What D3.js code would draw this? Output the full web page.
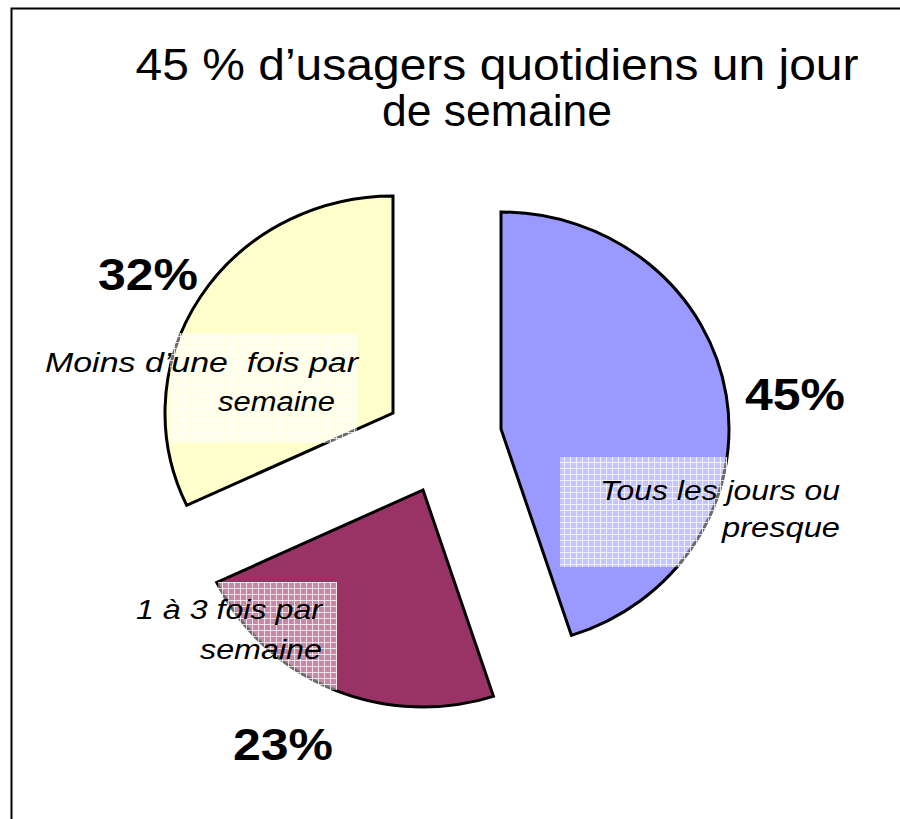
<!DOCTYPE html>
<html><head><meta charset="utf-8">
<script src="https://cdn.jsdelivr.net/npm/d3@7"></script>
<style>html,body{margin:0;padding:0;background:#fff;}svg{display:block;}text{white-space:pre;}</style>
</head><body>
<script>
// ---- data ----
const categories = ["Tous les jours ou presque", "1 à 3 fois par semaine", "Moins d’une  fois par semaine"];
const values = [45, 23, 32];
const percentLabels = ["45%", "23%", "32%"];
const labelLines = [["Tous les jours ou", "presque"], ["1 à 3 fois par", "semaine"], ["Moins d’une  fois par", "semaine"]];
const colors = ["#9999FF", "#993366", "#FFFFCC"];
const titleLines = ["45 % d’usagers quotidiens un jour", "de semaine"];

// ---- layout ----
const W = 900, H = 819;
const ry = 217, sx = 228 / 217;
const sliceCenters = [[501, 429], [423, 490], [393, 413]];
const pctPos = [[795, 410], [283, 760], [148, 290]];
const pctWidth = 100;
const lblBox = [[560, 457, 167, 110], [218, 582, 119, 108], [170, 333, 187, 110]];
const lblText = [[[840, 500], [840, 537]], [[322, 619], [322, 659]], [[358, 372], [335, 411]]];
const lblWidth = [[240, 118], [186, 122], [313, 117]];
const titleY = [80, 126], titleW = [723, 230];

const svg = d3.select("body").append("svg").attr("width", W).attr("height", H);
const defs = svg.append("defs");
const pat = defs.append("pattern").attr("id", "grid").attr("patternUnits", "userSpaceOnUse")
  .attr("width", 6).attr("height", 6);
pat.append("rect").attr("width", 6).attr("height", 6).attr("fill", "#fff").attr("fill-opacity", 0.42);
pat.append("path").attr("d", "M0,0.5H6M0.5,0V6").attr("stroke", "#fff").attr("stroke-opacity", 0.75).attr("stroke-width", 1);

// frame
svg.append("path").attr("d", `M11.5,${H}V8.5H${W}`).attr("fill", "none").attr("stroke", "#000").attr("stroke-width", 2);

// title
svg.append("g").selectAll("text").data(titleLines).join("text")
  .attr("x", 497).attr("y", (d, i) => titleY[i]).attr("text-anchor", "middle")
  .attr("textLength", (d, i) => titleW[i]).attr("lengthAdjust", "spacingAndGlyphs")
  .attr("font-family", "Liberation Sans, Arial, sans-serif").attr("font-size", 44).attr("fill", "#000")
  .text(d => d);

const pie = d3.pie().sort(null).value(d => d)(values);
const arc = d3.arc().innerRadius(0).outerRadius(ry);

const g = svg.append("g");
pie.forEach((p, i) => {
  const [ox, oy] = sliceCenters[i];
  g.append("path").attr("d", arc(p))
    .attr("transform", `translate(${ox},${oy}) scale(${sx},1)`)
    .attr("fill", colors[i]).attr("stroke", "#000").attr("stroke-width", 3)
    .attr("stroke-linejoin", "miter").attr("vector-effect", "non-scaling-stroke");
});

// label boxes
svg.append("g").selectAll("rect").data(lblBox).join("rect")
  .attr("x", d => d[0]).attr("y", d => d[1]).attr("width", d => d[2]).attr("height", d => d[3])
  .attr("fill", "url(#grid)");

// category labels
labelLines.forEach((lines, i) => {
  svg.append("g").selectAll("text").data(lines).join("text")
    .attr("x", (d, j) => lblText[i][j][0]).attr("y", (d, j) => lblText[i][j][1])
    .attr("textLength", (d, j) => lblWidth[i][j]).attr("lengthAdjust", "spacingAndGlyphs")
    .attr("text-anchor", "end").attr("font-family", "Liberation Sans, Arial, sans-serif")
    .attr("font-style", "italic").attr("font-size", 27).attr("fill", "#000").text(d => d);
});

// percentages
svg.append("g").selectAll("text").data(percentLabels).join("text")
  .attr("x", (d, i) => pctPos[i][0] - pctWidth / 2).attr("y", (d, i) => pctPos[i][1])
  .attr("textLength", pctWidth).attr("lengthAdjust", "spacingAndGlyphs")
  .attr("font-family", "Liberation Sans, Arial, sans-serif")
  .attr("font-weight", "bold").attr("font-size", 44).attr("fill", "#000").text(d => d);
</script>
</body></html>
